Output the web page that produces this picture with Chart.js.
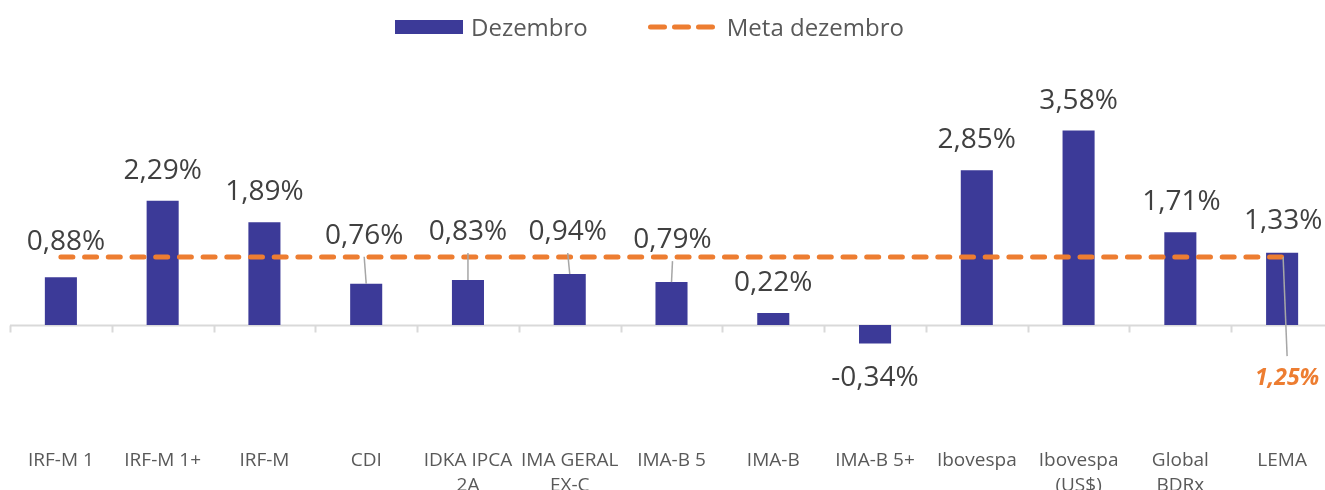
<!DOCTYPE html>
<html>
<head>
<meta charset="utf-8">
<script src="https://cdn.jsdelivr.net/npm/chart.js@4/dist/chart.umd.min.js"></script>
<style>
  html, body { margin: 0; padding: 0; background: #fff; overflow: hidden; }
  #wrap { position: relative; width: 1335px; height: 500px; }
  #legend { position: absolute; top: 12px; left: 0; width: 1299px; display: flex; justify-content: center;
            font-family: "Open Sans", sans-serif; font-size: 24px; color: #595959; line-height: 30px; }
  .item { display: flex; align-items: center; }
  .item1 { margin-right: 60px; }
  .sw { display: inline-block; width: 68px; height: 14px; background: #3c3a98; margin-right: 8px; }
  .item svg { margin-right: 12px; }
</style>
</head>
<body>
<div id="wrap">
  <canvas id="chart" width="1335" height="500"></canvas>
  <div id="legend">
    <div class="item item1"><span class="sw"></span><span>Dezembro</span></div>
    <div class="item"><svg width="67" height="14"><line x1="2.5" y1="7" x2="64.5" y2="7" stroke="#ed7d31" stroke-width="5" stroke-linecap="round" stroke-dasharray="14 10"/></svg><span>Meta dezembro</span></div>
  </div>
</div>
<script>
// categorias e valores (%)
const categorias = ["IRF-M 1", "IRF-M 1+", "IRF-M", "CDI", ["IDKA IPCA", "2A"], ["IMA GERAL", "EX-C"],
  "IMA-B 5", "IMA-B", "IMA-B 5+", "Ibovespa", ["Ibovespa", "(US$)"], ["Global", "BDRx"], "LEMA"];
const dezembro = [0.88, 2.29, 1.89, 0.76, 0.83, 0.94, 0.79, 0.22, -0.34, 2.85, 3.58, 1.71, 1.33];
const meta = [1.25, 1.25, 1.25, 1.25, 1.25, 1.25, 1.25, 1.25, 1.25, 1.25, 1.25, 1.25, 1.25];

// ajuste manual dos rotulos (px), como no original
const rotuloDx = [5, 0, 0, -2, 0, -2, 1, 0, 0, 0, 0, 1, 1];
const rotuloDy = [-5, 0, 0, -18, -18, -12, -12, 0, 0, 0, 0, 0, -2];
const comGuia = [false, false, false, true, true, true, true, false, false, false, false, false, false];

const fmt = v => v.toFixed(2).replace('.', ',') + '%';

const rotulos = {
  id: 'rotulos',
  beforeDatasetsDraw(chart) {
    const {ctx, chartArea, scales: {x, y}} = chart;
    const y0 = Math.round(y.getPixelForValue(0)) + 0.5;
    ctx.save();
    ctx.strokeStyle = '#d9d9d9';
    ctx.lineWidth = 2;
    ctx.beginPath();
    ctx.moveTo(chartArea.left, y0);
    ctx.lineTo(chartArea.right, y0);
    const step = x.getPixelForValue(1) - x.getPixelForValue(0);
    for (let i = 0; i <= categorias.length; i++) {
      const px = Math.round(x.getPixelForValue(0) - step / 2 + i * step) + 0.5;
      ctx.moveTo(px, y0);
      ctx.lineTo(px, y0 + 7);
    }
    ctx.stroke();
    ctx.restore();
  },
  afterDatasetsDraw(chart) {
    const {ctx} = chart;
    const bars = chart.getDatasetMeta(0).data;
    ctx.save();
    ctx.font = '28px "Open Sans"';
    ctx.textAlign = 'center';
    ctx.textBaseline = 'middle';
    bars.forEach((b, i) => {
      const v = dezembro[i];
      const lx = b.x + rotuloDx[i];
      const ly = (v >= 0 ? b.y - 30 : b.y + 35) + rotuloDy[i];
      if (comGuia[i]) {
        ctx.strokeStyle = '#a6a6a6';
        ctx.lineWidth = 1.5;
        ctx.beginPath();
        ctx.moveTo(lx, ly + 21);
        ctx.lineTo(b.x, b.y);
        ctx.stroke();
      }
      ctx.fillStyle = '#404040';
      ctx.fillText(fmt(v), lx, ly);
    });
    // rotulo da meta no ultimo ponto
    const pts = chart.getDatasetMeta(1).data;
    const p = pts[pts.length - 1];
    const mx = p.x + 5, my = p.y + 121;
    ctx.strokeStyle = '#a6a6a6';
    ctx.lineWidth = 1.5;
    ctx.beginPath();
    ctx.moveTo(p.x + 1, p.y);
    ctx.lineTo(mx, my - 22);
    ctx.stroke();
    ctx.font = 'italic bold 23px "Open Sans"';
    ctx.fillStyle = '#ed7d31';
    ctx.fillText(fmt(meta[meta.length - 1]), mx, my);
    ctx.restore();
  }
};

new Chart(document.getElementById('chart'), {
  type: 'bar',
  data: {
    labels: categorias,
    datasets: [{
      label: 'Dezembro',
      data: dezembro,
      backgroundColor: '#3c3a98',
      barPercentage: 0.315,
      categoryPercentage: 1,
      order: 2
    }, {
      type: 'line',
      label: 'Meta dezembro',
      data: meta,
      borderColor: '#ed7d31',
      borderWidth: 5,
      borderDash: [12, 11.7],
      borderCapStyle: 'round',
      pointRadius: 0,
      fill: false,
      order: 1
    }]
  },
  options: {
    responsive: false,
    animation: false,
    layout: { padding: { top: 50, bottom: 0, left: 10, right: 2 } },
    plugins: { legend: { display: false }, tooltip: { enabled: false } },
    scales: {
      x: {
        afterFit(scale) {
          scale.height = 88;
          scale.paddingLeft = 0;
          scale.paddingRight = 0;
        },
        grid: { display: false, drawTicks: false },
        border: { display: false },
        ticks: {
          padding: 36,
          color: '#595959',
          maxRotation: 0,
          autoSkip: false,
          font: { family: 'Open Sans', size: 19, lineHeight: 25 / 19 }
        }
      },
      y: { display: false, min: -1.602, max: 5.064 }
    }
  },
  plugins: [rotulos]
});
</script>
</body>
</html>
